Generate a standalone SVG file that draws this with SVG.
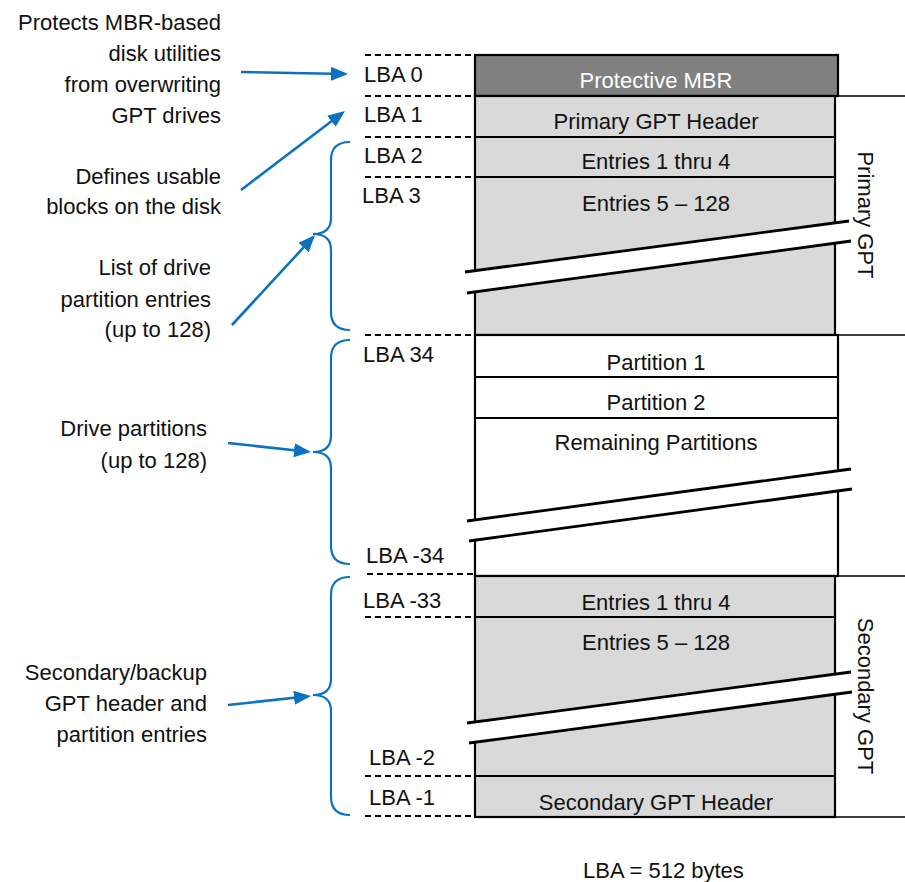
<svg xmlns="http://www.w3.org/2000/svg" width="905" height="882" viewBox="0 0 905 882">
<style>
text{font-family:"Liberation Sans",Arial,sans-serif;font-size:22px;fill:#111}
.c{text-anchor:middle}
.e{text-anchor:end}
.box{stroke:#000;stroke-width:2.2}
.gray{fill:#d9d9d9}
.div{stroke:#000;stroke-width:2.2}
.thin{stroke:#000;stroke-width:1.6}
.dash{stroke:#000;stroke-width:2;stroke-dasharray:6 4}
.brk{stroke:#000;stroke-width:2.8;fill:none}
.band{fill:#fff;stroke:none}
.blue{stroke:#0a72c0;stroke-width:2.6;fill:none}
.brace{stroke:#0a72c0;stroke-width:2.2;fill:none}
</style>
<defs>
<marker id="ah" markerWidth="17" markerHeight="14" refX="14" refY="7" orient="auto" markerUnits="userSpaceOnUse">
<path d="M0,0 L17,7 L0,14 z" fill="#0a72c0"/>
</marker>
</defs>
<rect width="905" height="882" fill="#fff"/>

<g id="dashes">
<line class="dash" x1="365" y1="55" x2="475" y2="55"/>
<line class="dash" x1="365" y1="96" x2="475" y2="96"/>
<line class="dash" x1="365" y1="137" x2="475" y2="137"/>
<line class="dash" x1="365" y1="177" x2="475" y2="177"/>
<line class="dash" x1="365" y1="335" x2="475" y2="335"/>
<line class="dash" x1="367" y1="574" x2="478" y2="574"/>
<line class="dash" x1="365" y1="617" x2="475" y2="617"/>
<line class="dash" x1="365" y1="776" x2="475" y2="776"/>
<line class="dash" x1="365" y1="816" x2="475" y2="816"/>
</g>

<g id="right-frame">
<line class="thin" x1="835" y1="96" x2="905" y2="96"/>
<line class="thin" x1="835" y1="335" x2="905" y2="335"/>
<line class="thin" x1="835" y1="576" x2="905" y2="576"/>
<line class="thin" x1="835" y1="817" x2="905" y2="817"/>
</g>

<g id="protective-mbr">
<rect class="box" x="475" y="55" width="363" height="41" fill="#808080"/>
<text class="c" x="656" y="88" style="fill:#fff">Protective MBR</text>
</g>

<g id="primary-gpt">
<rect class="box gray" x="475" y="96" width="360" height="239"/>
<line class="div" x1="475" y1="137" x2="835" y2="137"/>
<line class="div" x1="475" y1="177" x2="835" y2="177"/>
<polygon class="band" points="465,272 849,221 851,241 467,293"/>
<line class="brk" x1="465" y1="272" x2="849" y2="221"/>
<line class="brk" x1="467" y1="293" x2="851" y2="241"/>
<text class="c" x="656" y="129">Primary GPT Header</text>
<text class="c" x="656" y="169">Entries 1 thru 4</text>
<text class="c" x="656" y="211">Entries 5 – 128</text>
</g>

<g id="partitions">
<rect class="box" x="475" y="335" width="363" height="241" fill="#fff"/>
<line class="div" x1="475" y1="377" x2="838" y2="377"/>
<line class="div" x1="475" y1="418" x2="838" y2="418"/>
<polygon class="band" points="467,521 851,469 852,489 469,541"/>
<line class="brk" x1="467" y1="521" x2="851" y2="469"/>
<line class="brk" x1="469" y1="541" x2="852" y2="489"/>
<text class="c" x="656" y="370">Partition 1</text>
<text class="c" x="656" y="410">Partition 2</text>
<text class="c" x="656" y="450">Remaining Partitions</text>
</g>

<g id="secondary-gpt">
<rect class="box gray" x="475" y="576" width="360" height="241"/>
<line class="div" x1="475" y1="617" x2="835" y2="617"/>
<line class="div" x1="475" y1="776" x2="835" y2="776"/>
<polygon class="band" points="467,723 851,672 852,692 469,743"/>
<line class="brk" x1="467" y1="723" x2="851" y2="672"/>
<line class="brk" x1="469" y1="743" x2="852" y2="692"/>
<text class="c" x="656" y="610">Entries 1 thru 4</text>
<text class="c" x="656" y="650">Entries 5 – 128</text>
<text class="c" x="656" y="810">Secondary GPT Header</text>
</g>

<g id="side-labels">
<text class="c" transform="translate(858,215) rotate(90)">Primary GPT</text>
<text class="c" transform="translate(858,696) rotate(90)">Secondary GPT</text>
</g>

<g id="lba-labels">
<text x="364" y="82">LBA 0</text>
<text x="364" y="122">LBA 1</text>
<text x="364" y="163">LBA 2</text>
<text x="362" y="203">LBA 3</text>
<text x="363" y="362">LBA 34</text>
<text x="366" y="563">LBA -34</text>
<text x="363" y="608">LBA -33</text>
<text x="369" y="765">LBA -2</text>
<text x="369" y="805">LBA -1</text>
<text x="583" y="878">LBA = 512 bytes</text>
</g>

<g id="note-mbr">
<text class="e" x="221" y="30">Protects MBR-based</text>
<text class="e" x="221" y="61">disk utilities</text>
<text class="e" x="221" y="92">from overwriting</text>
<text class="e" x="221" y="123">GPT drives</text>
</g>
<g id="note-header">
<text class="e" x="221" y="184">Defines usable</text>
<text class="e" x="221" y="214">blocks on the disk</text>
</g>
<g id="note-entries">
<text class="e" x="211" y="275">List of drive</text>
<text class="e" x="211" y="307">partition entries</text>
<text class="e" x="211" y="337">(up to 128)</text>
</g>
<g id="note-partitions">
<text class="e" x="207" y="436">Drive partitions</text>
<text class="e" x="207" y="468">(up to 128)</text>
</g>
<g id="note-secondary">
<text class="e" x="207" y="680">Secondary/backup</text>
<text class="e" x="207" y="711">GPT header and</text>
<text class="e" x="207" y="742">partition entries</text>
</g>

<g id="braces">
<path class="brace" d="M350,142 Q331,142 331,160 L331,218 Q331,234 313,234 Q331,234 331,250 L331,312 Q331,330 350,330"/>
<path class="brace" d="M350,340 Q331,340 331,358 L331,436 Q331,452 313,452 Q331,452 331,468 L331,546 Q331,564 350,564"/>
<path class="brace" d="M350,577 Q331,577 331,595 L331,679 Q331,695 313,695 Q331,695 331,711 L331,797 Q331,815 350,815"/>
</g>

<g id="connectors">
<line class="blue" x1="241" y1="72" x2="345" y2="74" marker-end="url(#ah)"/>
<line class="blue" x1="241" y1="190" x2="342.6" y2="112.8" marker-end="url(#ah)"/>
<line class="blue" x1="232" y1="325" x2="313" y2="237.2" marker-end="url(#ah)"/>
<line class="blue" x1="228" y1="443" x2="308" y2="451.7" marker-end="url(#ah)"/>
<line class="blue" x1="228" y1="705" x2="308" y2="696.3" marker-end="url(#ah)"/>
</g>
</svg>
